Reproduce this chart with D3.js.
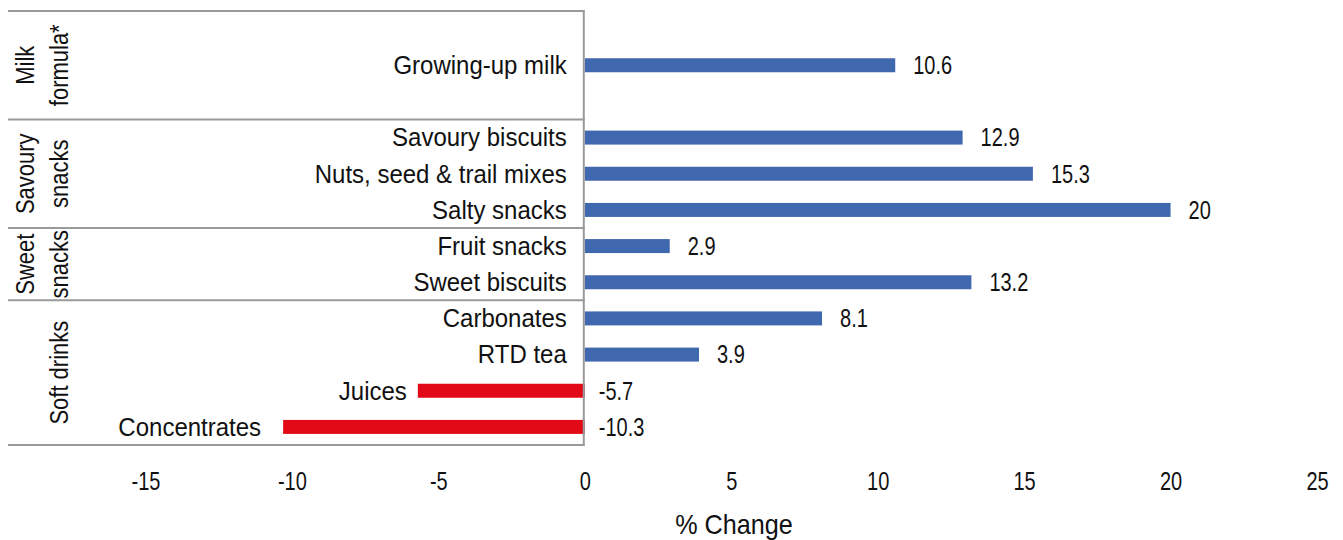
<!DOCTYPE html>
<html>
<head>
<meta charset="utf-8">
<script src="https://cdn.jsdelivr.net/npm/d3@7"></script>
<style>
  body { margin: 0; background: #fff; }
  svg text { font-family: "Liberation Sans", Arial, sans-serif; fill: #111; }
</style>
</head>
<body>
<div id="chart"></div>
<script>
// slots from top to bottom, blanks keep Excel's empty rows
var categories = ["_a", "Growing-up milk", "_b", "Savoury biscuits", "Nuts, seed & trail mixes", "Salty snacks",
                  "Fruit snacks", "Sweet biscuits", "Carbonates", "RTD tea", "Juices", "Concentrates"];
var values = [null, 10.6, null, 12.9, 15.3, 20, 2.9, 13.2, 8.1, 3.9, -5.7, -10.3];
var groupNames = [["Milk", "formula*"], ["Savoury", "snacks"], ["Sweet", "snacks"], ["Soft drinks"]];
var groupSizes = [3, 3, 2, 4];
var xTicks = [-15, -10, -5, 0, 5, 10, 15, 20, 25];

var W = 1343, H = 540;
var fs = 25, sxTxt = 0.96, sxNum = 0.8, sxGrp = 0.88;   // condensed look: narrow the glyphs
var svg = d3.select("#chart").append("svg")
    .attr("width", W).attr("height", H);

var x = d3.scaleLinear().domain([-20, 25]).range([-1, 1317]);
var y = d3.scaleBand().domain(categories).range([11, 445]).padding(0);

var data = categories.map(function(c, i) { return {cat: c, val: values[i]}; })
    .filter(function(d) { return d.val !== null; });

function squeeze(tx, ty, s) { return "translate(" + tx + "," + ty + ") scale(" + s + ",1)"; }

// bars
var bh = 14;
svg.selectAll(".bar").data(data).enter().append("rect")
    .attr("x", function(d) { return x(Math.min(0, d.val)); })
    .attr("y", function(d) { return y(d.cat) + y.bandwidth() / 2 - bh / 2; })
    .attr("width", function(d) { return Math.abs(x(d.val) - x(0)); })
    .attr("height", bh)
    .attr("fill", function(d) { return d.val < 0 ? "#E30A17" : "#4068AE"; });

// category labels
svg.selectAll(".cat").data(data).enter().append("text")
    .attr("transform", function(d) {
        var lx = d.val < 0 ? x(d.val) - (d.cat == "Juices" ? 11 : 22) : x(0) - 18;
        return squeeze(lx, y(d.cat) + y.bandwidth() / 2, sxTxt);
    })
    .attr("dy", "0.35em")
    .attr("text-anchor", "end")
    .style("font-size", fs + "px")
    .text(function(d) { return d.cat; });

// value labels
svg.selectAll(".val").data(data).enter().append("text")
    .attr("transform", function(d) {
        var lx = d.val < 0 ? x(0) + 14 : x(d.val) + 18;
        return squeeze(lx, y(d.cat) + y.bandwidth() / 2, sxNum);
    })
    .attr("dy", "0.35em")
    .style("font-size", fs + "px")
    .text(function(d) { return d.val; });

// group lines + labels
var lineCol = "#9a9a9a";
var start = 0;
var bounds = [0];
groupSizes.forEach(function(n) { start += n; bounds.push(start); });
var slotY = function(i) { return i < categories.length ? y(categories[i]) : y.range()[1]; };

svg.selectAll(".gline").data(bounds).enter().append("line")
    .attr("x1", 8).attr("x2", x(0))
    .attr("y1", function(b) { return slotY(b); })
    .attr("y2", function(b) { return slotY(b); })
    .attr("stroke", lineCol).attr("stroke-width", 2);

svg.append("line")
    .attr("x1", x(0) - 1).attr("x2", x(0) - 1)
    .attr("y1", slotY(0)).attr("y2", slotY(categories.length))
    .attr("stroke", lineCol).attr("stroke-width", 2);

groupNames.forEach(function(lines, gi) {
    var cy = (slotY(bounds[gi]) + slotY(bounds[gi + 1])) / 2;
    var n = lines.length;
    lines.forEach(function(t, li) {
        var cx = 59 - (n - 1 - li) * 34;
        svg.append("text")
            .attr("transform", "translate(" + cx + "," + cy + ") rotate(-90) scale(" + sxGrp + ",1)")
            .attr("text-anchor", "middle")
            .attr("dy", "0.35em")
            .style("font-size", fs + "px")
            .text(t);
    });
});

// x axis, labels only
var xAxis = svg.append("g")
    .attr("transform", "translate(0,481)")
    .call(d3.axisBottom(x).tickValues(xTicks).tickSize(0).tickPadding(0)
        .tickFormat(function(d) { return String(d); }));
xAxis.select(".domain").remove();
xAxis.selectAll("text")
    .attr("y", null)
    .attr("dy", "0.35em")
    .attr("transform", "scale(" + sxNum + ",1)")
    .style("font-size", fs + "px")
    .style("font-family", "'Liberation Sans', Arial, sans-serif")
    .attr("fill", "#111");

svg.append("text")
    .attr("transform", "translate(734,524) scale(0.9,1)")
    .attr("text-anchor", "middle")
    .attr("dy", "0.35em")
    .style("font-size", "28px")
    .text("% Change");
</script>
</body>
</html>
